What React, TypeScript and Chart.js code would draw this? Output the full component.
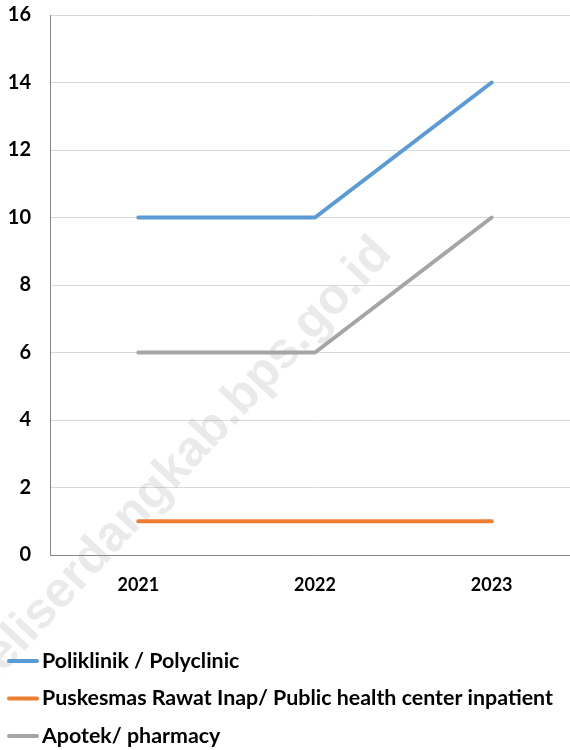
import React, { useEffect, useRef } from 'react';
import { Chart, registerables } from 'chart.js';

Chart.register(...registerables);

const categories = ['2021', '2022', '2023'];
const seriesNames = [
  'Poliklinik / Polyclinic',
  'Puskesmas Rawat Inap/ Public health center inpatient',
  'Apotek/ pharmacy',
];
const poliklinik = [10, 10, 14];
const puskesmas = [1, 1, 1];
const apotek = [6, 6, 10];
const seriesColors = ['#5b9bd5', '#ed7d31', '#a5a5a5'];
const yMin = 0;
const yMax = 16;
const yStep = 2;
const watermarkText = 'deliserdangkab.bps.go.id';

const FONT = '"Lato", "Liberation Sans", sans-serif';

const watermarkPlugin = {
  id: 'watermark',
  beforeDatasetsDraw(chart: any) {
    const ctx = chart.ctx;
    ctx.save();
    ctx.translate(178, 466);
    ctx.rotate((-47 * Math.PI) / 180);
    ctx.font = `bold 50px "Liberation Sans", sans-serif`;
    ctx.fillStyle = 'rgba(150,150,150,0.2)';
    ctx.textAlign = 'center';
    ctx.textBaseline = 'middle';
    ctx.fillText(watermarkText, 0, 0);
    ctx.restore();
  },
};

const listLegendPlugin = {
  id: 'listLegend',
  afterDraw(chart: any) {
    const ctx = chart.ctx;
    const base = chart.chartArea.bottom + 106;
    ctx.save();
    chart.data.datasets.forEach((ds: any, i: number) => {
      const y = base + i * 37.5;
      ctx.strokeStyle = ds.borderColor;
      ctx.lineWidth = 4;
      ctx.lineCap = 'round';
      ctx.beginPath();
      ctx.moveTo(9, y);
      ctx.lineTo(37, y);
      ctx.stroke();
      ctx.fillStyle = '#000000';
      ctx.font = `bold 21.4px ${FONT}`;
      ctx.textAlign = 'left';
      ctx.textBaseline = 'middle';
      ctx.fillText(ds.label, 42, y);
    });
    ctx.restore();
  },
};

export default function App() {
  const canvasRef = useRef<HTMLCanvasElement | null>(null);

  useEffect(() => {
    if (!canvasRef.current) return;
    const values = [poliklinik, puskesmas, apotek];
    const chart = new Chart(canvasRef.current, {
      type: 'line',
      data: {
        labels: categories,
        datasets: values.map((v, i) => ({
          label: seriesNames[i],
          data: v,
          borderColor: seriesColors[i],
          backgroundColor: seriesColors[i],
          borderWidth: 4,
          pointRadius: 0,
          pointHoverRadius: 0,
          borderCapStyle: 'round',
          borderJoinStyle: 'round',
          tension: 0,
          fill: false,
        })),
      },
      options: {
        responsive: false,
        animation: false,
        devicePixelRatio: 1,
        layout: { padding: { top: 0, right: 20, bottom: 145, left: 0 } },
        plugins: {
          legend: { display: false },
          tooltip: { enabled: false },
        },
        scales: {
          x: {
            offset: true,
            grid: { display: false },
            border: { display: true, color: '#868686', width: 1 },
            ticks: {
              color: '#000000',
              font: { family: FONT, size: 18, weight: 'bold' },
              padding: 11,
              maxRotation: 0,
            },
            afterFit(scale: any) {
              scale.height = 50;
            },
          },
          y: {
            min: yMin,
            max: yMax,
            grid: { color: '#d9d9d9', lineWidth: 1, drawTicks: false },
            border: { display: true, color: '#868686', width: 1 },
            ticks: {
              stepSize: yStep,
              color: '#000000',
              font: { family: FONT, size: 20, weight: 'bold' },
              padding: 19,
            },
            afterFit(scale: any) {
              scale.width = 50;
              scale.paddingTop = 15;
              scale.paddingBottom = 0;
            },
          },
        },
      },
      plugins: [watermarkPlugin, listLegendPlugin],
    } as any);
    return () => chart.destroy();
  }, []);

  return (
    <div
      style={{
        position: 'fixed',
        left: 0,
        top: 0,
        width: 570,
        height: 750,
        overflow: 'hidden',
        background: '#ffffff',
      }}
    >
      <canvas
        ref={canvasRef}
        width={600}
        height={750}
        style={{ display: 'block', width: 600, height: 750 }}
      />
    </div>
  );
}
